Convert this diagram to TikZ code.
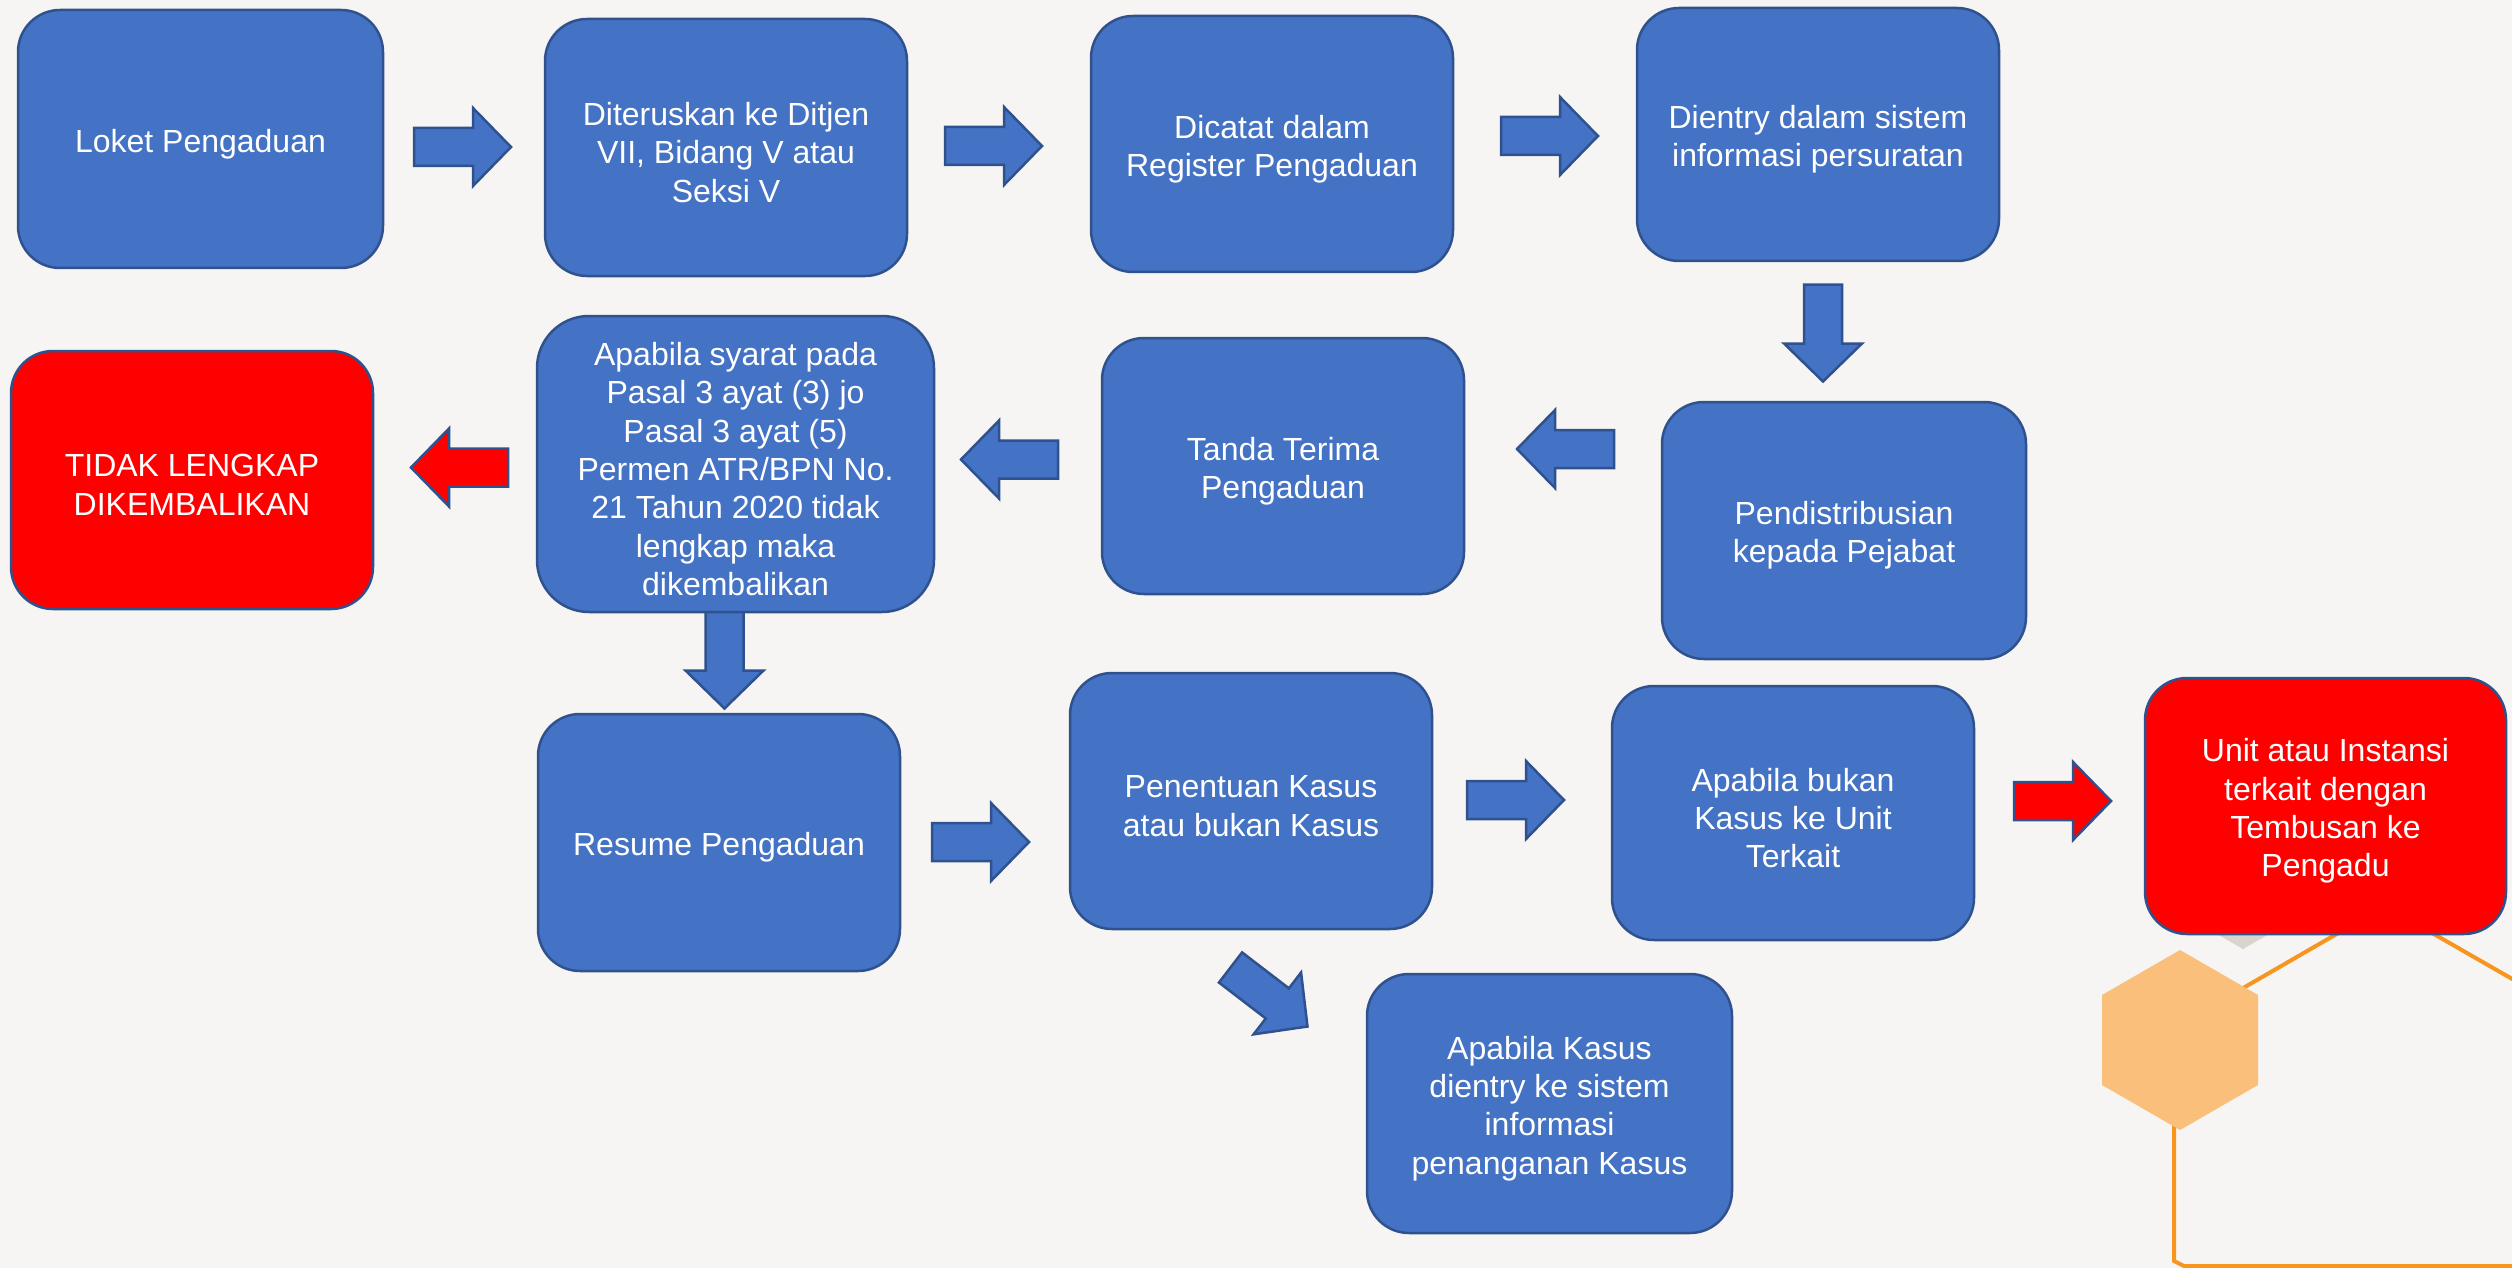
\documentclass[tikz,border=0pt]{standalone}
\usepackage{fontspec}
\setmainfont{Liberation Sans}
\definecolor{bg}{HTML}{F6F5F3}
\definecolor{blu}{HTML}{4472C4}
\definecolor{bord}{HTML}{2F528F}
\definecolor{redd}{HTML}{FF0000}
\definecolor{peach}{HTML}{F9BF7B}
\definecolor{orng}{HTML}{F7961E}
\definecolor{hexgray}{HTML}{D9D4CE}
\tikzset{
  box/.style={draw=bord, line width=2.5pt, fill=blu, rounded corners=42pt, inner sep=0pt},
  redbox/.style={box, fill=redd},
  txt/.style={text=white, align=center, inner sep=0pt, yshift=-5pt,
    font=\fontsize{32}{38.4}\selectfont},
  barrow/.pic={\path[pic actions] (-48.5,-19)--(10.5,-19)--(10.5,-39)--(48.5,0)--(10.5,39)--(10.5,19)--(-48.5,19)--cycle;},
  bluearrow/.style={draw=bord, fill=blu, line width=2.5pt},
  redarrow/.style={draw=bord, fill=redd, line width=2.5pt}
}
\begin{document}
\begin{tikzpicture}[x=1pt,y=-1pt]
\useasboundingbox (0,0) rectangle (2512,1268);
\fill[bg] (0,0) rectangle (2512,1268);

% decoration (bottom right)
\begin{scope}
\clip (0,0) rectangle (2512,1268);
\draw[orng, line width=4pt, line join=miter] (2514,980)--(2385,906)--(2174,1028)--(2174,1261)--(2184,1266)--(2514,1266);
\fill[hexgray] (2243,769)--(2321,814)--(2321,904)--(2243,949)--(2165,904)--(2165,814)--cycle;
\fill[peach] (2180,950)--(2258,995)--(2258,1085)--(2180,1130)--(2102,1085)--(2102,995)--cycle;
\end{scope}

% block arrows
\pic[bluearrow] at (462.5,147) {barrow};
\pic[bluearrow] at (993.5,146) {barrow};
\pic[bluearrow] at (1549.5,136) {barrow};
\pic[bluearrow, rotate=-90] at (1823,333) {barrow};
\pic[bluearrow, rotate=180] at (1565.5,449) {barrow};
\pic[bluearrow, rotate=180] at (1009.5,459.5) {barrow};
\pic[redarrow, rotate=180] at (459.5,467.5) {barrow};
\pic[bluearrow, rotate=-90] at (724.5,660) {barrow};
\pic[bluearrow] at (980.5,842) {barrow};
\pic[bluearrow] at (1515.5,800) {barrow};
\pic[redarrow] at (2062.5,801) {barrow};
\pic[bluearrow, rotate=-37.5] at (1269,997) {barrow};

% boxes
\node[box, minimum width=365pt, minimum height=258pt, label={[txt]center:Loket Pengaduan}] (b1) at (200.5,139) {};
\node[box, minimum width=362pt, minimum height=257pt, label={[txt]center:{Diteruskan ke Ditjen\\VII, Bidang V atau\\Seksi V}}] (b2) at (726,147.5) {};
\node[box, minimum width=362pt, minimum height=256pt, label={[txt]center:{Dicatat dalam\\Register Pengaduan}}] (b3) at (1272,144) {};
\node[box, minimum width=362pt, minimum height=253pt, label={[txt]center:{Dientry dalam sistem\\informasi persuratan}}] (b4) at (1818,134.5) {};
\node[box, minimum width=364pt, minimum height=257pt, label={[txt]center:{Pendistribusian\\kepada Pejabat}}] (b5) at (1844,530.5) {};
\node[box, minimum width=362pt, minimum height=256pt, label={[txt]center:{Tanda Terima\\Pengaduan}}] (b6) at (1283,466) {};
\node[box, rounded corners=52pt, minimum width=397pt, minimum height=296pt, label={[txt]center:{Apabila syarat pada\\Pasal 3 ayat (3) jo\\Pasal 3 ayat (5)\\Permen ATR/BPN No.\\21 Tahun 2020 tidak\\lengkap maka\\dikembalikan}}] (b7) at (735.5,464) {};
\node[redbox, minimum width=362pt, minimum height=258pt, label={[txt]center:{TIDAK LENGKAP\\DIKEMBALIKAN}}] (b8) at (192,480) {};
\node[box, minimum width=362pt, minimum height=257pt, label={[txt]center:Resume Pengaduan}] (b9) at (719,842.5) {};
\node[box, minimum width=362pt, minimum height=256pt, label={[txt]center:{Penentuan Kasus\\atau bukan Kasus}}] (b10) at (1251,801) {};
\node[box, minimum width=362pt, minimum height=254pt, label={[txt]center:{Apabila bukan\\Kasus ke Unit\\Terkait}}] (b11) at (1793,813) {};
\node[redbox, minimum width=361pt, minimum height=256pt, label={[txt]center:{Unit atau Instansi\\terkait dengan\\Tembusan ke\\Pengadu}}] (b12) at (2325.5,806) {};
\node[box, minimum width=365pt, minimum height=259pt, label={[txt]center:{Apabila Kasus\\dientry ke sistem\\informasi\\penanganan Kasus}}] (b13) at (1549.5,1103.5) {};
\end{tikzpicture}
\end{document}
